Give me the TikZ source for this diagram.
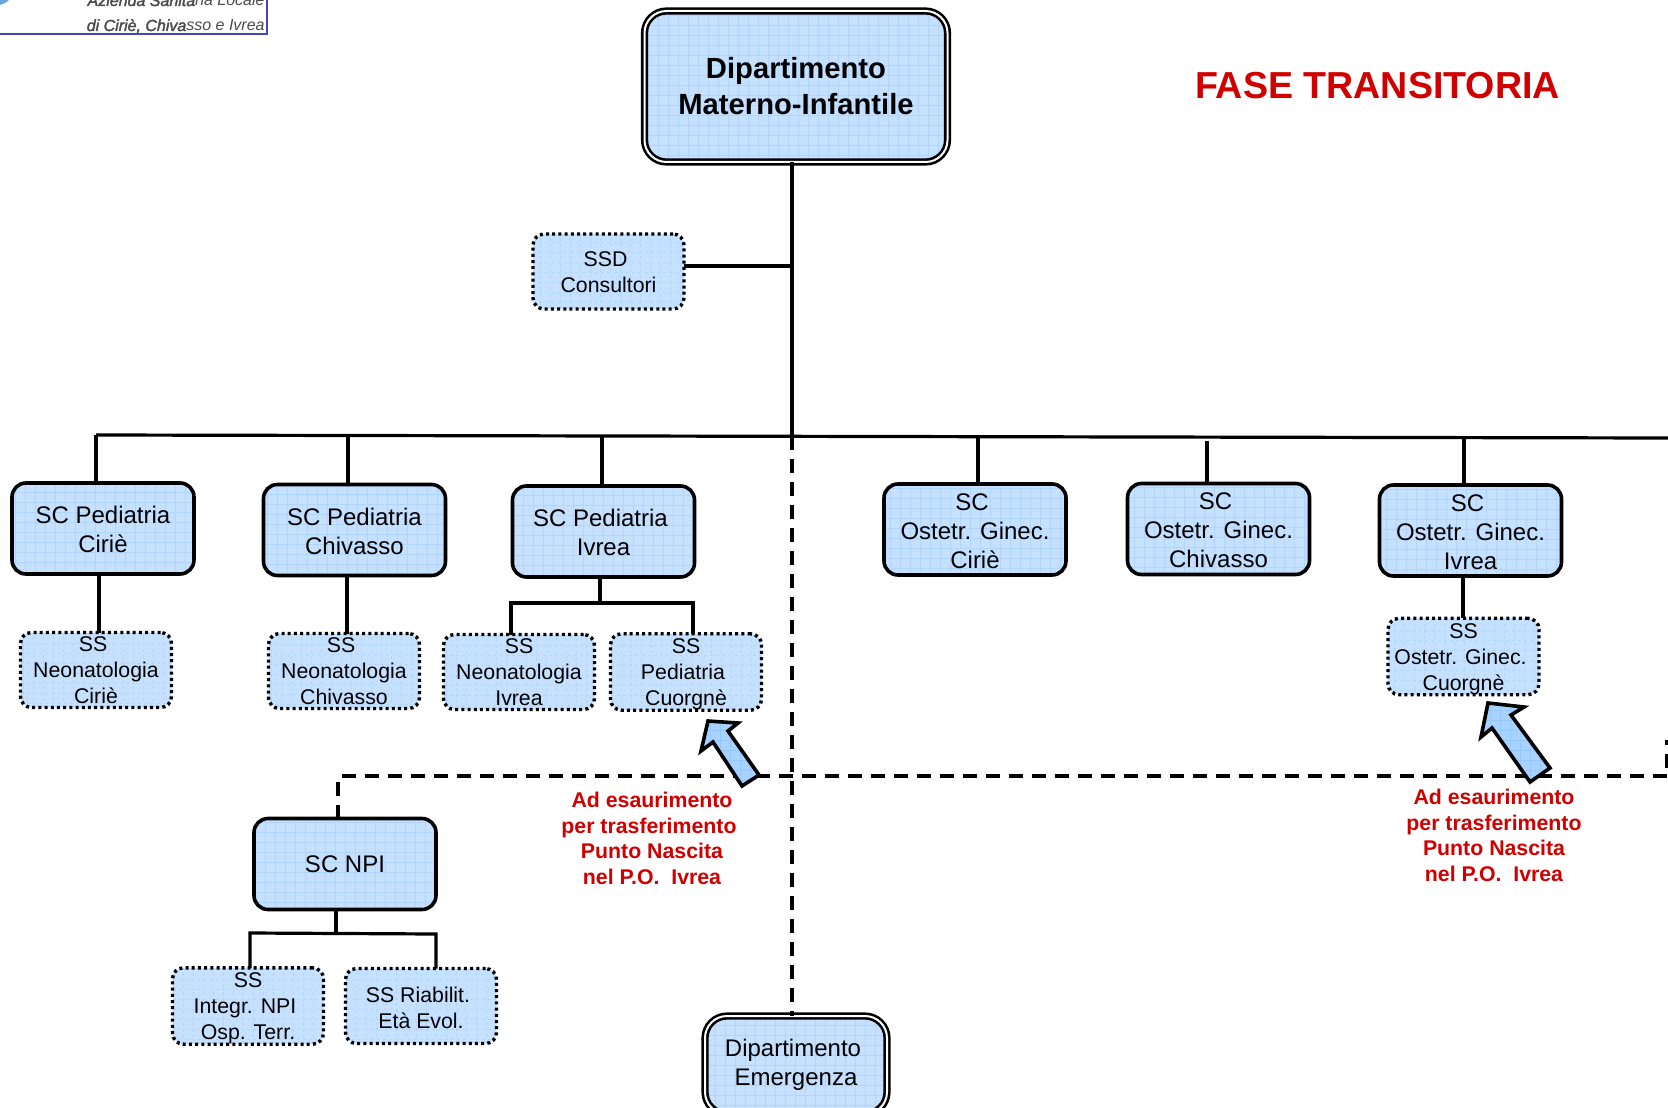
\documentclass[tikz,border=0pt]{standalone}
\usepackage{fontspec}
\setmainfont{Liberation Sans}
\definecolor{boxblue}{HTML}{C6E1FF}
\definecolor{gridblue}{HTML}{B0D6FF}
\definecolor{arrowblue}{HTML}{A8D2FF}
\definecolor{arrowgrid}{HTML}{96C8FF}
\definecolor{redtxt}{HTML}{D00000}
\definecolor{logoblue}{HTML}{4545C0}
\newcommand{\topfix}{\rule{0pt}{10pt}}
\newcommand{\sctop}{\rule{0pt}{9.7pt}}
\tikzset{
  gridfill/.style={fill=boxblue,path picture={
    \draw[gridblue,line width=.4pt,step=5pt] (path picture bounding box.south west) grid (path picture bounding box.north east);}},
  arrowfill/.style={fill=arrowblue,path picture={
    \draw[arrowgrid,line width=.4pt,step=5pt] (path picture bounding box.south west) grid (path picture bounding box.north east);}},
  basebox/.style={gridfill,rounded corners=7pt,inner sep=0pt,outer sep=0pt,align=center,draw=black},
  scbox/.style={basebox,line width=1.8pt,minimum width=91pt,minimum height=45.5pt,font=\fontsize{12}{14.5}\selectfont},
  ssbox/.style={basebox,line width=1.7pt,rounded corners=5.5pt,dash pattern=on 1.5pt off 1.6pt,minimum width=75.5pt,minimum height=37.5pt,font=\fontsize{10.65}{13}\selectfont},
  deptbox/.style={basebox,line width=1.3pt,double,double distance=1pt,rounded corners=11pt},
  link/.style={line width=1.6pt,draw=black},
  dashlink/.style={line width=1.6pt,draw=black,dash pattern=on 7pt off 4.5pt},
  redlabel/.style={text=redtxt,font=\bfseries\fontsize{10.65}{12.85}\selectfont,align=center,inner sep=0pt},
  bigarrow/.style={arrowfill,draw=black,line width=1.8pt,line join=miter}
}
\begin{document}
\begin{tikzpicture}[x=.5pt,y=-.5pt]
\clip (0,0) rectangle (1668,1107);
\fill[white] (0,0) rectangle (1668,1107);
% logo fragment
\fill[cyan!60!blue!60] (0,0) -- (9,0) .. controls (6,3) and (3,4) .. (0,5) -- cycle;
\draw[logoblue,line width=1pt] (0,34) -- (267,34) -- (267,0);
\node[anchor=base east,inner sep=0pt,text=black!70,font=\itshape\fontsize{8}{10}\selectfont] (logoa) at (265,6) {{\addfontfeature{FakeBold=2}Azienda Sanita}ria Locale};
\node[anchor=base east,inner sep=0pt,text=black!70,font=\itshape\fontsize{8}{10}\selectfont] (logob) at (265,31) {{\addfontfeature{FakeBold=2}di Ciriè, Chiva}sso e Ivrea};
% title
\node[inner sep=0pt,text=redtxt,font=\bfseries\fontsize{18.8}{22}\selectfont] (fase) at (1377.5,85.5) {FASE TRANSITORIA};
% coordinates of the trunk, bus and dashed lines
\coordinate (tbus) at (792,436);
\coordinate (busL) at (96,435);
\coordinate (busR) at (1668,438);
\coordinate (d2) at (348,436);
\coordinate (d3) at (602,436);
\coordinate (d4) at (978,437);
\coordinate (d5) at (1207,441);
\coordinate (d6) at (1464,437);
\coordinate (ssdj) at (792,266);
\coordinate (dashL) at (338,776);
\coordinate (dashR) at (1667,776);
\coordinate (dashRu) at (1667,740);
% boxes
\node[deptbox,minimum width=151.5pt,minimum height=75.5pt,font=\bfseries\fontsize{14.6}{18}\selectfont] (main) at (796,86.5) {Dipartimento\\Materno-Infantile};
\node[deptbox,minimum width=91pt,minimum height=49pt,font=\fontsize{12}{14.5}\selectfont] (emer) at (796,1065) {Dipartimento\kern3pt\\Emergenza};
\node[ssbox] (ssd) at (608.5,271.5) {\rule{0pt}{8.3pt}SSD\kern3pt\\Consultori};
\node[scbox] (pc) at (103,528.5) {\sctop SC Pediatria\\Ciriè};
\node[scbox] (pv) at (354.5,530) {\sctop SC Pediatria\\Chivasso};
\node[scbox] (pi) at (603.5,531.5) {\sctop SC Pediatria\kern3pt\\Ivrea};
\node[scbox] (oc) at (975,529.5) {\sctop SC\kern3pt\\Ostetr. Ginec.\\Ciriè};
\node[scbox] (ov) at (1218.5,529) {\sctop SC\kern3pt\\Ostetr. Ginec.\\Chivasso};
\node[scbox] (oi) at (1470.5,530.5) {\sctop SC\kern3pt\\Ostetr. Ginec.\\Ivrea};
\node[scbox] (npi) at (345,864) {SC NPI};
\node[ssbox] (nc) at (96,670) {SS\kern3pt\\Neonatologia\\Ciriè};
\node[ssbox] (nv) at (344,671) {SS\kern3pt\\Neonatologia\\Chivasso};
\node[ssbox] (ni) at (519,672) {SS\\Neonatologia\\Ivrea};
\node[ssbox] (pcu) at (686,672) {\topfix SS\\Pediatria\kern3pt\\Cuorgnè};
\node[ssbox] (ocu) at (1463.5,656.5) {\topfix SS\\Ostetr. Ginec.\kern3pt\\Cuorgnè};
\node[ssbox] (sin) at (248,1006) {\topfix SS\\Integr. NPI\kern3pt\\Osp. Terr.};
\node[ssbox] (sri) at (421,1006) {\topfix SS Riabilit.\kern3pt\\Età Evol.};
% solid connectors
\draw[link] (main.south -| tbus) -- (tbus);
\draw[link] (ssd.east |- ssdj) -- (ssdj);
\draw[link] (busL) -- (busR);
\draw[link] (busL) -- (busL |- pc.north);
\draw[link] (d2) -- (d2 |- pv.north);
\draw[link] (d3) -- (d3 |- pi.north);
\draw[link] (d4) -- (d4 |- oc.north);
\draw[link] (d5) -- (d5 |- ov.north);
\draw[link] (d6) -- (d6 |- oi.north);
\coordinate (xc) at (99,600);
\draw[link] (pc.south -| xc) -- (nc.north -| xc);
\coordinate (xv) at (347,600);
\draw[link] (pv.south -| xv) -- (nv.north -| xv);
\coordinate (ji) at (600,603);
\coordinate (jil) at (511,603);
\coordinate (jir) at (693,603);
\draw[link] (pi.south -| ji) -- (ji);
\draw[link] (jil |- ni.north) -- (jil) -- (jir) -- (jir |- pcu.north);
\coordinate (xo) at (1463,600);
\draw[link] (oi.south -| xo) -- (ocu.north -| xo);
\coordinate (jn) at (336,933);
\coordinate (jnl) at (250,933);
\coordinate (jnr) at (436,934);
\draw[link] (npi.south -| jn) -- (jn);
\draw[link] (jnl |- sin.north) -- (jnl) -- (jnr) -- (jnr |- sri.north);
% dashed connectors
\draw[dashlink] (tbus) -- (tbus |- emer.north);
\draw[dashlink] (npi.north -| dashL) -- (dashL) -- (dashR) -- (dashRu);
% block arrows
\path[bigarrow] (708,721) -- (738,723) -- (728,731) -- (759,775) -- (742,786) -- (713,742) -- (701,751) -- cycle;
\path[bigarrow] (1488,703) -- (1524,707) -- (1511,715) -- (1550,768) -- (1530,782) -- (1492,728) -- (1481,737) -- cycle;
% red notes
\node[redlabel] (notea) at (652,838.5) {Ad esaurimento\\per trasferimento\kern3pt\\Punto Nascita\\nel P.O.\ \ Ivrea};
\node[redlabel] (noteb) at (1494,835.5) {Ad esaurimento\\per trasferimento\\Punto Nascita\\nel P.O.\ \ Ivrea};
\end{tikzpicture}
\end{document}
